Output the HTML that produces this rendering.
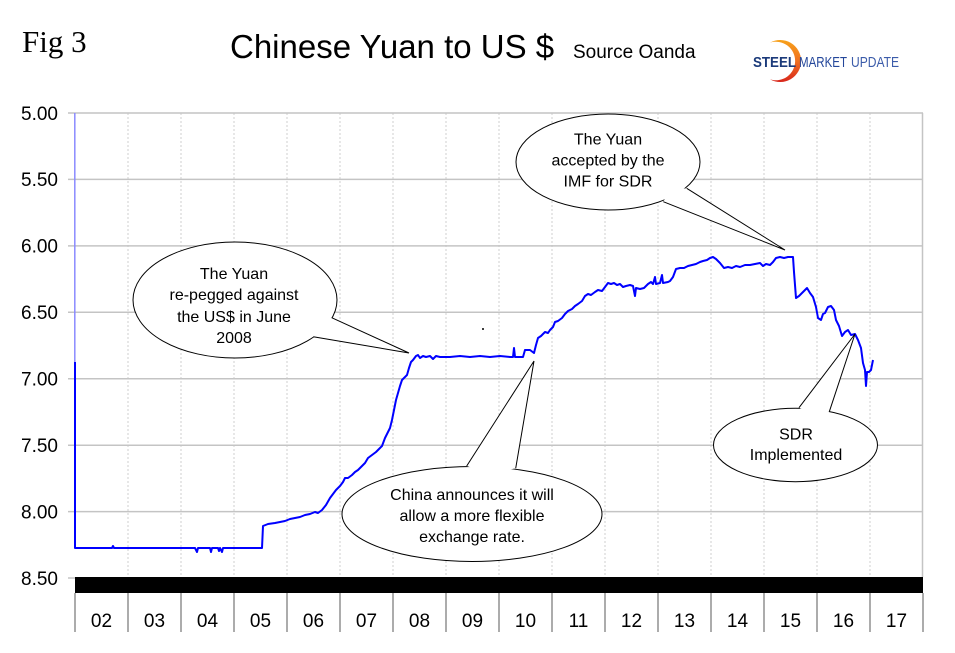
<!DOCTYPE html>
<html>
<head>
<meta charset="utf-8">
<style>
html,body{margin:0;padding:0;background:#fff;}
svg{display:block;}
</style>
</head>
<body>
<svg width="955" height="653" viewBox="0 0 955 653" xmlns="http://www.w3.org/2000/svg">
<defs>
<linearGradient id="cg" x1="0" y1="0" x2="0" y2="1">
<stop offset="0" stop-color="#f7a21b"/>
<stop offset="0.5" stop-color="#f07020"/>
<stop offset="1" stop-color="#d8261c"/>
</linearGradient>
</defs>
<rect width="955" height="653" fill="#fff"/>

<!-- Titles -->
<text x="22" y="52" font-family="Liberation Serif, serif" font-size="31" fill="#000">Fig 3</text>
<text x="230" y="58" font-family="Liberation Sans, sans-serif" font-size="33" fill="#000">Chinese Yuan to US $</text>
<text x="573" y="58" font-family="Liberation Sans, sans-serif" font-size="19" fill="#000">Source Oanda</text>

<!-- Logo -->
<path d="M770,42.6 A21,21 0 1 1 770,79.4 A19.3,19.3 0 1 0 770,42.6 Z" fill="url(#cg)"/>
<text x="753" y="67" font-family="Liberation Sans, sans-serif" font-size="15" font-weight="bold" fill="#1b3a7a" textLength="43" lengthAdjust="spacingAndGlyphs">STEEL</text>
<text x="799" y="67" font-family="Liberation Sans, sans-serif" font-size="15" fill="#23469a" textLength="48" lengthAdjust="spacingAndGlyphs">MARKET</text>
<text x="851" y="67" font-family="Liberation Sans, sans-serif" font-size="15" fill="#3c5caa" textLength="48" lengthAdjust="spacingAndGlyphs">UPDATE</text>

<!-- Vertical dotted grid -->
<g stroke="#cfcfcf" stroke-width="1" stroke-dasharray="2,2">
<line x1="128" y1="113" x2="128" y2="577"/>
<line x1="181" y1="113" x2="181" y2="577"/>
<line x1="234" y1="113" x2="234" y2="577"/>
<line x1="287" y1="113" x2="287" y2="577"/>
<line x1="340" y1="113" x2="340" y2="577"/>
<line x1="393" y1="113" x2="393" y2="577"/>
<line x1="446" y1="113" x2="446" y2="577"/>
<line x1="499" y1="113" x2="499" y2="577"/>
<line x1="552" y1="113" x2="552" y2="577"/>
<line x1="605" y1="113" x2="605" y2="577"/>
<line x1="658" y1="113" x2="658" y2="577"/>
<line x1="711" y1="113" x2="711" y2="577"/>
<line x1="764" y1="113" x2="764" y2="577"/>
<line x1="817" y1="113" x2="817" y2="577"/>
<line x1="870" y1="113" x2="870" y2="577"/>
</g>

<!-- Horizontal grid -->
<g stroke="#c4c4c4" stroke-width="1.5">
<line x1="68" y1="113" x2="923" y2="113"/>
<line x1="68" y1="179.4" x2="923" y2="179.4"/>
<line x1="68" y1="245.9" x2="923" y2="245.9"/>
<line x1="68" y1="312.3" x2="923" y2="312.3"/>
<line x1="68" y1="378.7" x2="923" y2="378.7"/>
<line x1="68" y1="445.2" x2="923" y2="445.2"/>
<line x1="68" y1="511.6" x2="923" y2="511.6"/>
<line x1="68" y1="578" x2="75" y2="578"/>
<line x1="922.5" y1="113" x2="922.5" y2="577"/>
</g>

<!-- Y labels -->
<g font-family="Liberation Sans, sans-serif" font-size="19" fill="#000" text-anchor="end">
<text x="58" y="120">5.00</text>
<text x="58" y="186.2">5.50</text>
<text x="58" y="252.7">6.00</text>
<text x="58" y="319.1">6.50</text>
<text x="58" y="385.5">7.00</text>
<text x="58" y="452">7.50</text>
<text x="58" y="518.4">8.00</text>
<text x="58" y="584.8">8.50</text>
</g>

<!-- Black bar -->
<rect x="75" y="577" width="848" height="16" fill="#000"/>

<!-- Bottom separators -->
<g stroke="#909090" stroke-width="1.5">
<line x1="75" y1="593" x2="75" y2="632"/>
<line x1="128" y1="593" x2="128" y2="632"/>
<line x1="181" y1="593" x2="181" y2="632"/>
<line x1="234" y1="593" x2="234" y2="632"/>
<line x1="287" y1="593" x2="287" y2="632"/>
<line x1="340" y1="593" x2="340" y2="632"/>
<line x1="393" y1="593" x2="393" y2="632"/>
<line x1="446" y1="593" x2="446" y2="632"/>
<line x1="499" y1="593" x2="499" y2="632"/>
<line x1="552" y1="593" x2="552" y2="632"/>
<line x1="605" y1="593" x2="605" y2="632"/>
<line x1="658" y1="593" x2="658" y2="632"/>
<line x1="711" y1="593" x2="711" y2="632"/>
<line x1="764" y1="593" x2="764" y2="632"/>
<line x1="817" y1="593" x2="817" y2="632"/>
<line x1="870" y1="593" x2="870" y2="632"/>
<line x1="923" y1="593" x2="923" y2="632"/>
</g>

<!-- X labels -->
<g font-family="Liberation Sans, sans-serif" font-size="19" fill="#000" text-anchor="middle">
<text x="101.5" y="627">02</text>
<text x="154.5" y="627">03</text>
<text x="207.5" y="627">04</text>
<text x="260.5" y="627">05</text>
<text x="313.5" y="627">06</text>
<text x="366.5" y="627">07</text>
<text x="419.5" y="627">08</text>
<text x="472.5" y="627">09</text>
<text x="525.5" y="627">10</text>
<text x="578.5" y="627">11</text>
<text x="631.5" y="627">12</text>
<text x="684.5" y="627">13</text>
<text x="737.5" y="627">14</text>
<text x="790.5" y="627">15</text>
<text x="843.5" y="627">16</text>
<text x="896.5" y="627">17</text>
</g>

<!-- Series -->
<line x1="74.8" y1="113" x2="74.8" y2="362" stroke="#8a8aff" stroke-width="1.5"/>
<polyline fill="none" stroke="#0000ff" stroke-width="2" stroke-linejoin="round" points="
75,362 75,548 112,548 113,546 114,548 195,548 197,552 198,548 210,548 211,552 212,548 218,548 219,551 220,548 222,552 223,548 262,548
263,526 268,524 275,523 280,522 285,521 290,519 295,518 300,517 305,515 310,514 315,512 318,513 322,510
326,505 330,498 333,494 336,490 340,486 343,482 345,478 348,478 352,475 355,472 358,470 362,466 365,463 368,458
372,455 376,452 380,448 382,446 385,438 388,432 390,428 392,420 394,410 396,400 398,393 400,386 402,380 404,378
407,375 409,368 411,362 413,360 416,356 418,355 420,358 423,356 426,357 430,356 433,359 436,356 440,357 445,357
450,357 460,356 470,357 480,356 490,357 500,356 510,357 513,357 514,348 515,357 523,357 525,350 530,350 534,353
536,345 538,338 541,336 545,332 548,333 550,330 553,327 555,322 558,321 562,318 565,314 568,311 572,309 575,306
578,304 582,301 585,296 588,294 591,295 595,292 598,290 602,291 605,287 608,283 611,284 614,283 617,285 620,284
623,287 626,286 630,285 633,286 635,296 636,288 640,289 644,288 648,284 651,282 653,284 655,277 656,284 660,283
662,275 663,283 668,282 670,281 673,277 676,269 680,268 684,268 688,266 692,265 696,264 700,262 703,261 707,260
710,258 713,257 716,259 720,263 724,268 728,267 732,268 736,266 740,267 745,265 750,265 755,264 760,263 763,266
766,264 770,265 773,262 776,258 780,257 784,258 788,257 793,257 794,272 796,298 799,296 803,292 807,288 810,293
813,297 816,307 818,318 821,320 823,314 825,313 828,307 831,306 834,310 836,320 839,326 842,336 845,332 848,330
851,335 855,334 858,340 861,348 863,363 865,370 866,386 867,372 869,372 871,370 873,360"/>

<circle cx="483" cy="329" r="1" fill="#000"/>

<!-- Callout 1 -->
<ellipse cx="235" cy="300" rx="102" ry="58" fill="#fff" stroke="#000" stroke-width="1"/>
<polygon points="409,353 331.7,317.7 310,325 313.3,336.7" fill="#fff"/>
<polyline points="331.7,317.7 409,353 313.3,336.7" fill="none" stroke="#000" stroke-width="1"/>
<g font-family="Liberation Sans, sans-serif" font-size="16" fill="#000" text-anchor="middle">
<text x="234" y="279">The Yuan</text>
<text x="234" y="300">re-pegged against</text>
<text x="234" y="322">the US$ in June</text>
<text x="234" y="343">2008</text>
</g>

<!-- Callout 2 -->
<ellipse cx="608" cy="162" rx="92" ry="48" fill="#fff" stroke="#000" stroke-width="1"/>
<polygon points="785,250 686.7,188.3 670,190 663.3,201.7" fill="#fff"/>
<polyline points="686.7,188.3 785,250 663.3,201.7" fill="none" stroke="#000" stroke-width="1"/>
<g font-family="Liberation Sans, sans-serif" font-size="16" fill="#000" text-anchor="middle">
<text x="608" y="144.5">The Yuan</text>
<text x="608" y="165.5">accepted by the</text>
<text x="608" y="186.5">IMF for SDR</text>
</g>

<!-- Callout 3 -->
<ellipse cx="472" cy="514" rx="130" ry="47.5" fill="#fff" stroke="#000" stroke-width="1"/>
<polygon points="534,361 466.7,466 490,474 515.7,468.3" fill="#fff"/>
<polyline points="466.7,466 534,361 515.7,468.3" fill="none" stroke="#000" stroke-width="1"/>
<g font-family="Liberation Sans, sans-serif" font-size="16" fill="#000" text-anchor="middle">
<text x="472" y="500">China announces it will</text>
<text x="472" y="521">allow a more flexible</text>
<text x="472" y="542">exchange rate.</text>
</g>

<!-- Callout 4 -->
<ellipse cx="795.5" cy="445" rx="82" ry="36.7" fill="#fff" stroke="#000" stroke-width="1"/>
<polygon points="855,334 799,407.7 812,414 829.3,411.7" fill="#fff"/>
<polyline points="799,407.7 855,334 829.3,411.7" fill="none" stroke="#000" stroke-width="1"/>
<g font-family="Liberation Sans, sans-serif" font-size="16" fill="#000" text-anchor="middle">
<text x="796" y="439.5">SDR</text>
<text x="796" y="460">Implemented</text>
</g>
</svg>
</body>
</html>
